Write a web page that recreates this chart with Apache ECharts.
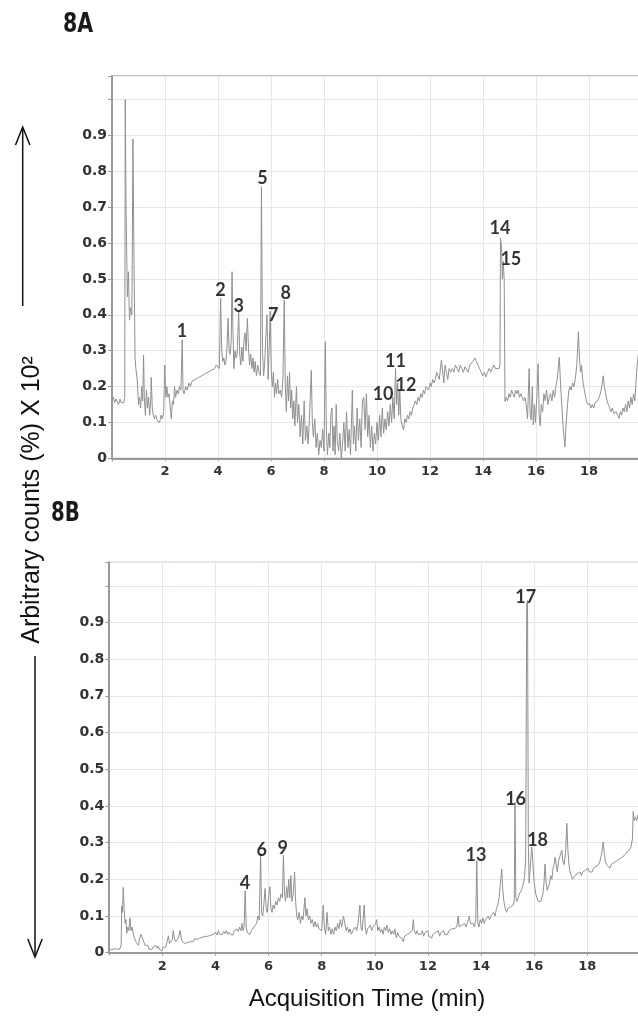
<!DOCTYPE html>
<html>
<head>
<meta charset="utf-8">
<script src="https://cdn.jsdelivr.net/npm/echarts@6/dist/echarts.min.js"></script>
<style>
html,body{margin:0;padding:0;background:#fff;}
#chart{width:638px;height:1035px;}
</style>
</head>
<body>
<div id="chart"></div>
<script>
// ---- Panel 8A trace: [time (min), arbitrary counts]
const traceA = [
[0.00,0.16],[0.05,0.17],[0.10,0.155],[0.15,0.165],[0.20,0.16],[0.25,0.15],[0.30,0.165],[0.35,0.155],[0.40,0.15],[0.45,0.155],
[0.48,0.17],[0.50,1.0],[0.53,0.70],[0.58,0.45],[0.62,0.52],[0.66,0.385],[0.70,0.42],[0.75,0.40],[0.79,0.89],[0.83,0.55],
[0.87,0.28],[0.90,0.25],[0.95,0.22],[1.00,0.15],[1.04,0.17],[1.08,0.14],[1.12,0.20],[1.16,0.16],[1.19,0.288],[1.22,0.17],
[1.26,0.12],[1.30,0.19],[1.34,0.14],[1.38,0.17],[1.42,0.12],[1.46,0.16],[1.48,0.226],[1.52,0.14],[1.56,0.12],[1.60,0.11],
[1.65,0.12],[1.70,0.105],[1.75,0.11],[1.80,0.10],[1.85,0.12],[1.90,0.11],[1.95,0.13],[1.99,0.26],[2.03,0.17],[2.07,0.20],
[2.11,0.17],[2.15,0.18],[2.20,0.14],[2.24,0.11],[2.28,0.16],[2.32,0.15],[2.36,0.20],[2.40,0.17],[2.45,0.19],[2.50,0.18],
[2.55,0.20],[2.60,0.19],[2.65,0.33],[2.68,0.19],[2.72,0.18],[2.78,0.20],[2.84,0.19],[2.90,0.21],[2.96,0.20],[3.02,0.215],
[3.08,0.21],[3.14,0.22],[3.20,0.215],[3.26,0.225],[3.32,0.22],[3.38,0.23],[3.44,0.225],[3.50,0.235],[3.56,0.23],[3.62,0.24],
[3.68,0.235],[3.74,0.245],[3.80,0.24],[3.86,0.25],[3.94,0.26],[4.00,0.255],[4.05,0.25],[4.10,0.446],[4.14,0.30],[4.18,0.27],
[4.22,0.28],[4.26,0.26],[4.30,0.27],[4.34,0.31],[4.38,0.39],[4.42,0.30],[4.46,0.29],[4.50,0.33],[4.53,0.52],[4.56,0.37],
[4.60,0.25],[4.64,0.30],[4.68,0.28],[4.72,0.29],[4.78,0.408],[4.82,0.29],[4.86,0.26],[4.90,0.31],[4.94,0.27],[4.98,0.33],
[5.02,0.35],[5.06,0.30],[5.11,0.39],[5.15,0.31],[5.19,0.26],[5.23,0.29],[5.28,0.25],[5.32,0.28],[5.36,0.24],[5.40,0.27],
[5.45,0.23],[5.50,0.26],[5.55,0.24],[5.60,0.23],[5.64,0.757],[5.68,0.30],[5.72,0.23],[5.76,0.26],[5.80,0.33],[5.85,0.40],
[5.89,0.22],[5.93,0.30],[5.97,0.41],[6.01,0.24],[6.05,0.20],[6.09,0.24],[6.13,0.17],[6.17,0.21],[6.21,0.18],[6.25,0.22],
[6.30,0.18],[6.35,0.19],[6.40,0.17],[6.45,0.22],[6.50,0.441],[6.54,0.20],[6.58,0.13],[6.62,0.23],[6.66,0.16],[6.70,0.24],
[6.74,0.14],[6.78,0.19],[6.82,0.11],[6.86,0.16],[6.90,0.09],[6.96,0.20],[7.00,0.10],[7.05,0.15],[7.10,0.06],[7.15,0.12],
[7.20,0.04],[7.25,0.16],[7.30,0.05],[7.35,0.09],[7.40,0.04],[7.45,0.11],[7.52,0.245],[7.56,0.10],[7.60,0.06],[7.65,0.11],
[7.70,0.03],[7.75,0.07],[7.80,0.01],[7.85,0.05],[7.90,0.03],[7.95,0.08],[8.00,0.02],[8.05,0.325],[8.09,0.08],[8.13,0.01],
[8.18,0.07],[8.22,0.03],[8.26,0.12],[8.30,0.14],[8.34,0.02],[8.38,0.09],[8.42,0.01],[8.46,0.15],[8.50,0.05],[8.55,0.02],
[8.60,0.07],[8.65,0.00],[8.70,0.04],[8.75,0.10],[8.80,0.02],[8.85,0.13],[8.90,0.03],[8.95,0.08],[9.00,0.01],[9.07,0.19],
[9.11,0.04],[9.15,0.09],[9.20,0.02],[9.25,0.14],[9.30,0.05],[9.35,0.11],[9.40,0.03],[9.45,0.16],[9.50,0.17],[9.55,0.08],
[9.60,0.18],[9.65,0.06],[9.70,0.12],[9.75,0.03],[9.80,0.09],[9.85,0.02],[9.90,0.07],[9.95,0.04],[10.00,0.10],[10.05,0.05],
[10.10,0.12],[10.15,0.06],[10.20,0.14],[10.25,0.07],[10.30,0.11],[10.35,0.08],[10.40,0.13],[10.45,0.09],[10.50,0.15],[10.55,0.10],
[10.60,0.17],[10.65,0.11],[10.70,0.25],[10.74,0.15],[10.78,0.21],[10.82,0.12],[10.86,0.19],[10.90,0.11],[10.95,0.09],[11.00,0.08],
[11.05,0.11],[11.10,0.10],[11.15,0.12],[11.20,0.11],[11.25,0.13],[11.30,0.12],[11.35,0.14],[11.40,0.145],[11.45,0.16],[11.50,0.15],
[11.55,0.17],[11.60,0.16],[11.65,0.18],[11.70,0.17],[11.75,0.19],[11.80,0.18],[11.85,0.20],[11.90,0.195],[11.95,0.19],[12.00,0.21],
[12.05,0.20],[12.10,0.22],[12.15,0.21],[12.20,0.22],[12.25,0.24],[12.30,0.23],[12.35,0.22],[12.43,0.274],[12.48,0.24],[12.52,0.21],
[12.57,0.26],[12.62,0.24],[12.67,0.22],[12.72,0.25],[12.78,0.24],[12.84,0.25],[12.90,0.24],[12.96,0.26],[13.02,0.25],[13.08,0.24],
[13.14,0.26],[13.20,0.25],[13.26,0.24],[13.32,0.255],[13.38,0.25],[13.44,0.24],[13.50,0.26],[13.56,0.265],[13.62,0.27],[13.69,0.28],
[13.75,0.27],[13.81,0.26],[13.87,0.25],[13.93,0.24],[13.99,0.23],[14.05,0.24],[14.11,0.227],[14.17,0.24],[14.23,0.25],[14.29,0.24],
[14.35,0.25],[14.41,0.26],[14.47,0.25],[14.53,0.255],[14.60,0.25],[14.64,0.26],[14.66,0.613],[14.70,0.59],[14.73,0.50],[14.76,0.55],
[14.80,0.50],[14.83,0.158],[14.88,0.17],[14.93,0.16],[14.98,0.18],[15.03,0.17],[15.08,0.19],[15.13,0.18],[15.18,0.17],[15.23,0.19],
[15.28,0.18],[15.33,0.19],[15.38,0.17],[15.43,0.18],[15.48,0.17],[15.53,0.16],[15.58,0.17],[15.63,0.15],[15.68,0.11],[15.74,0.25],
[15.78,0.12],[15.82,0.107],[15.86,0.20],[15.90,0.093],[15.94,0.15],[15.98,0.10],[16.03,0.17],[16.08,0.264],[16.12,0.12],[16.16,0.09],
[16.20,0.15],[16.25,0.13],[16.30,0.18],[16.35,0.16],[16.40,0.19],[16.45,0.15],[16.50,0.17],[16.55,0.18],[16.60,0.16],[16.65,0.19],
[16.70,0.17],[16.75,0.20],[16.80,0.22],[16.88,0.282],[16.93,0.20],[16.98,0.14],[17.03,0.08],[17.09,0.032],[17.14,0.10],[17.19,0.15],
[17.24,0.19],[17.28,0.20],[17.33,0.19],[17.38,0.21],[17.43,0.20],[17.48,0.22],[17.54,0.26],[17.60,0.353],[17.64,0.28],[17.68,0.24],
[17.72,0.26],[17.76,0.22],[17.80,0.20],[17.85,0.18],[17.90,0.16],[17.95,0.15],[18.03,0.152],[18.08,0.14],[18.13,0.15],[18.18,0.14],
[18.23,0.155],[18.28,0.15],[18.33,0.16],[18.38,0.17],[18.43,0.18],[18.48,0.20],[18.54,0.23],[18.58,0.20],[18.63,0.18],[18.68,0.16],
[18.73,0.15],[18.78,0.14],[18.83,0.13],[18.88,0.14],[18.93,0.125],[18.98,0.124],[19.03,0.13],[19.08,0.12],[19.13,0.111],[19.18,0.13],
[19.23,0.12],[19.28,0.14],[19.33,0.13],[19.38,0.15],[19.43,0.13],[19.48,0.16],[19.53,0.14],[19.58,0.17],[19.63,0.15],[19.68,0.18],
[19.73,0.16],[19.78,0.22],[19.83,0.27],[19.88,0.30],[19.93,0.28],[19.98,0.29]
];

// ---- Panel 8B trace: [time (min), arbitrary counts]
const traceB = [
[0.00,0.010],[0.05,0.012],[0.10,0.008],[0.15,0.010],[0.20,0.011],[0.25,0.009],[0.30,0.010],[0.35,0.012],[0.40,0.010],[0.45,0.02],
[0.47,0.127],[0.50,0.11],[0.53,0.178],[0.56,0.12],[0.60,0.08],[0.63,0.09],[0.66,0.053],[0.70,0.07],[0.74,0.06],[0.78,0.095],
[0.82,0.06],[0.86,0.07],[0.91,0.05],[0.95,0.04],[1.00,0.03],[1.05,0.035],[1.10,0.02],[1.15,0.04],[1.20,0.05],[1.22,0.055],
[1.26,0.045],[1.30,0.03],[1.35,0.02],[1.40,0.015],[1.45,0.02],[1.50,0.01],[1.55,0.012],[1.60,0.008],[1.65,0.015],[1.70,0.01],
[1.75,0.02],[1.80,0.012],[1.85,0.018],[1.90,0.008],[1.95,0.010],[1.98,0.005],[2.03,0.015],[2.08,0.02],[2.13,0.015],[2.18,0.03],
[2.23,0.046],[2.27,0.025],[2.32,0.03],[2.37,0.035],[2.41,0.06],[2.45,0.04],[2.50,0.03],[2.55,0.035],[2.60,0.04],[2.67,0.06],
[2.71,0.04],[2.76,0.03],[2.81,0.035],[2.86,0.025],[2.91,0.03],[2.96,0.028],[3.01,0.033],[3.06,0.03],[3.11,0.035],[3.16,0.03],
[3.21,0.038],[3.26,0.033],[3.31,0.036],[3.36,0.032],[3.41,0.04],[3.46,0.036],[3.51,0.042],[3.56,0.038],[3.61,0.044],[3.66,0.04],
[3.71,0.045],[3.76,0.041],[3.81,0.047],[3.86,0.043],[3.91,0.05],[3.96,0.045],[4.01,0.055],[4.06,0.048],[4.11,0.06],[4.16,0.05],
[4.21,0.055],[4.26,0.05],[4.31,0.058],[4.36,0.052],[4.41,0.06],[4.46,0.05],[4.51,0.056],[4.56,0.05],[4.61,0.055],[4.66,0.048],
[4.71,0.06],[4.76,0.055],[4.81,0.065],[4.86,0.058],[4.91,0.07],[4.96,0.06],[5.00,0.08],[5.04,0.06],[5.08,0.07],[5.12,0.169],
[5.16,0.07],[5.20,0.055],[5.25,0.06],[5.30,0.05],[5.35,0.06],[5.40,0.055],[5.45,0.07],[5.50,0.065],[5.55,0.08],[5.60,0.10],
[5.65,0.09],[5.70,0.27],[5.74,0.11],[5.78,0.10],[5.82,0.13],[5.87,0.175],[5.91,0.12],[5.95,0.11],[6.00,0.15],[6.05,0.18],
[6.09,0.12],[6.13,0.11],[6.17,0.13],[6.22,0.12],[6.27,0.14],[6.32,0.13],[6.37,0.15],[6.42,0.14],[6.47,0.16],[6.52,0.15],
[6.56,0.265],[6.60,0.16],[6.64,0.14],[6.68,0.18],[6.72,0.15],[6.76,0.20],[6.80,0.15],[6.84,0.21],[6.88,0.14],[6.93,0.16],
[6.98,0.22],[7.02,0.14],[7.06,0.10],[7.10,0.09],[7.15,0.11],[7.20,0.08],[7.25,0.10],[7.30,0.09],[7.37,0.15],[7.41,0.10],
[7.45,0.12],[7.50,0.09],[7.55,0.10],[7.60,0.08],[7.65,0.09],[7.70,0.07],[7.75,0.085],[7.80,0.07],[7.85,0.08],[7.90,0.065],
[7.95,0.07],[8.00,0.06],[8.06,0.13],[8.10,0.07],[8.15,0.05],[8.20,0.11],[8.25,0.06],[8.30,0.07],[8.35,0.05],[8.40,0.065],
[8.45,0.05],[8.50,0.07],[8.55,0.06],[8.60,0.08],[8.65,0.065],[8.70,0.09],[8.75,0.07],[8.82,0.10],[8.87,0.08],[8.92,0.06],
[8.97,0.07],[9.02,0.055],[9.07,0.065],[9.12,0.05],[9.17,0.06],[9.22,0.055],[9.27,0.07],[9.32,0.06],[9.37,0.08],[9.44,0.13],
[9.48,0.07],[9.52,0.06],[9.56,0.09],[9.60,0.13],[9.64,0.07],[9.68,0.05],[9.73,0.065],[9.78,0.06],[9.83,0.075],[9.88,0.06],
[9.93,0.07],[9.98,0.065],[10.03,0.08],[10.07,0.09],[10.11,0.06],[10.16,0.07],[10.21,0.055],[10.26,0.065],[10.31,0.05],[10.36,0.07],
[10.41,0.06],[10.46,0.075],[10.51,0.055],[10.56,0.065],[10.61,0.05],[10.66,0.06],[10.71,0.05],[10.76,0.065],[10.81,0.04],[10.86,0.055],
[10.91,0.045],[10.96,0.05],[11.01,0.04],[11.07,0.03],[11.12,0.045],[11.17,0.04],[11.22,0.05],[11.27,0.045],[11.32,0.055],[11.37,0.05],
[11.41,0.06],[11.45,0.09],[11.49,0.06],[11.54,0.05],[11.59,0.06],[11.64,0.05],[11.69,0.055],[11.74,0.05],[11.79,0.06],[11.84,0.045],
[11.89,0.055],[11.94,0.05],[11.99,0.06],[12.04,0.045],[12.09,0.05],[12.14,0.04],[12.19,0.05],[12.24,0.045],[12.29,0.055],[12.34,0.05],
[12.39,0.06],[12.44,0.045],[12.49,0.055],[12.54,0.05],[12.59,0.06],[12.64,0.05],[12.69,0.055],[12.74,0.05],[12.79,0.06],[12.84,0.055],
[12.89,0.065],[12.94,0.06],[12.99,0.065],[13.04,0.06],[13.09,0.07],[13.14,0.10],[13.18,0.07],[13.23,0.065],[13.28,0.075],[13.33,0.07],
[13.38,0.08],[13.43,0.07],[13.48,0.08],[13.52,0.09],[13.56,0.10],[13.60,0.08],[13.65,0.075],[13.70,0.08],[13.75,0.07],[13.80,0.09],
[13.84,0.25],[13.88,0.08],[13.92,0.07],[13.97,0.09],[14.02,0.08],[14.07,0.095],[14.12,0.08],[14.17,0.09],[14.22,0.085],[14.27,0.10],
[14.32,0.09],[14.37,0.10],[14.42,0.095],[14.47,0.11],[14.53,0.10],[14.58,0.12],[14.63,0.13],[14.68,0.15],[14.73,0.19],[14.78,0.228],
[14.82,0.17],[14.86,0.14],[14.91,0.12],[14.96,0.11],[15.01,0.12],[15.06,0.115],[15.11,0.125],[15.16,0.12],[15.21,0.13],[15.25,0.14],
[15.28,0.41],[15.31,0.15],[15.35,0.14],[15.40,0.15],[15.44,0.16],[15.48,0.164],[15.52,0.17],[15.56,0.18],[15.60,0.19],[15.64,0.21],
[15.68,0.25],[15.72,0.95],[15.75,0.96],[15.78,0.30],[15.81,0.19],[15.84,0.19],[15.87,0.25],[15.91,0.288],[15.94,0.26],[15.98,0.21],
[16.02,0.18],[16.06,0.16],[16.10,0.15],[16.15,0.14],[16.20,0.145],[16.25,0.14],[16.29,0.136],[16.33,0.16],[16.37,0.19],[16.41,0.242],
[16.45,0.19],[16.49,0.17],[16.54,0.17],[16.58,0.19],[16.62,0.21],[16.67,0.20],[16.71,0.23],[16.75,0.24],[16.79,0.26],[16.83,0.24],
[16.87,0.22],[16.92,0.25],[16.96,0.26],[17.00,0.27],[17.04,0.28],[17.08,0.25],[17.13,0.24],[17.18,0.27],[17.23,0.353],[17.27,0.28],
[17.31,0.24],[17.35,0.22],[17.40,0.21],[17.44,0.20],[17.48,0.20],[17.53,0.21],[17.58,0.205],[17.63,0.215],[17.68,0.21],[17.73,0.22],
[17.78,0.21],[17.83,0.22],[17.88,0.215],[17.93,0.225],[17.98,0.22],[18.03,0.23],[18.08,0.22],[18.13,0.225],[18.18,0.22],[18.23,0.23],
[18.28,0.225],[18.33,0.235],[18.38,0.23],[18.43,0.24],[18.48,0.25],[18.54,0.27],[18.60,0.302],[18.64,0.27],[18.68,0.25],[18.73,0.24],
[18.78,0.235],[18.85,0.23],[18.90,0.24],[18.95,0.235],[19.00,0.245],[19.05,0.24],[19.10,0.25],[19.15,0.245],[19.20,0.255],[19.25,0.25],
[19.30,0.26],[19.35,0.255],[19.40,0.265],[19.45,0.26],[19.50,0.275],[19.55,0.27],[19.60,0.28],[19.65,0.29],[19.70,0.31],[19.73,0.385],
[19.77,0.36],[19.81,0.37],[19.86,0.36],[19.90,0.375],[19.95,0.37],[20.00,0.38]
];

// ---- Peak number labels (time, count position, text)
const peakNamesA = ['1','2','3','5','7','8','10','11','12','14','15'];
const peakTimesA = [2.64, 4.09, 4.78, 5.68, 6.08, 6.56, 10.23, 10.70, 11.09, 14.64, 15.05];
const peakValsA  = [0.353, 0.469, 0.424, 0.780, 0.400, 0.461, 0.178, 0.271, 0.204, 0.642, 0.555];

const peakNamesB = ['4','6','9','13','16','17','18'];
const peakTimesB = [5.11, 5.74, 6.53, 13.81, 15.30, 15.68, 16.13];
const peakValsB  = [0.190, 0.280, 0.284, 0.266, 0.418, 0.970, 0.307];

// ---- Axis tick settings
const xTickStep = 2;
const yTickStep = 0.1;
const xTitle = 'Acquisition Time (min)';
const yTitle = 'Arbitrary counts (%) X 10²';
const panelTitles = ['8A', '8B'];

const chart = echarts.init(document.getElementById('chart'), null, {renderer: 'canvas'});

const gridLineColor = '#e3e8e8';
const axisColor = '#9a9a9a';

function xAxisCfg(gi) {
  return {
    type: 'value', gridIndex: gi, min: 0, max: 20, interval: xTickStep,
    axisLine: {show: true, onZero: false, lineStyle: {color: axisColor, width: 2}},
    axisTick: {show: true, length: 3, lineStyle: {color: axisColor}},
    axisLabel: {margin: 7, formatter: v => (v === 0 || v === 20) ? '' : String(v),
      fontFamily: 'DejaVu Sans', fontWeight: 'bold', fontSize: 13, color: '#333'},
    splitLine: {show: true, lineStyle: {color: gridLineColor, width: 1}}
  };
}
function yAxisCfg(gi, maxV) {
  return {
    type: 'value', gridIndex: gi, min: 0, max: maxV, interval: yTickStep,
    axisLine: {show: true, lineStyle: {color: axisColor, width: 2}},
    axisTick: {show: true, length: 4, lineStyle: {color: axisColor}},
    axisLabel: {margin: 5, formatter: v => v === 0 ? '0' : (v > 0.95 ? '' : v.toFixed(1)),
      fontFamily: 'DejaVu Sans', fontWeight: 'bold', fontSize: 14, color: '#333'},
    splitLine: {show: true, lineStyle: {color: gridLineColor, width: 1}}
  };
}
function labelData(names, ts, vs) {
  return names.map((n, i) => [ts[i], vs[i], n]);
}
const peakLabelStyle = {
  show: true, position: 'inside', formatter: p => p.data[2],
  fontFamily: 'Lato, "Liberation Sans", sans-serif', fontWeight: 'bold', fontSize: 18, color: '#000'
};

const option = {
  backgroundColor: '#fff',
  animation: false,
  grid: [
    {left: 112, top: 76, width: 530, height: 382.3, outerBoundsMode: 'none', containLabel: false,
     show: true, borderColor: '#8a8a8a', borderWidth: 1, backgroundColor: 'transparent'},
    {left: 109.2, top: 562.3, width: 531.2, height: 390.4, outerBoundsMode: 'none', containLabel: false,
     show: true, borderColor: '#8a8a8a', borderWidth: 1, backgroundColor: 'transparent'}
  ],
  xAxis: [xAxisCfg(0), xAxisCfg(1)],
  yAxis: [yAxisCfg(0, 1.0657), yAxisCfg(1, 1.064)],
  series: [
    {type: 'line', xAxisIndex: 0, yAxisIndex: 0, data: traceA, showSymbol: false, symbol: 'none',
     lineStyle: {color: '#909090', width: 1}, silent: true},
    {type: 'line', xAxisIndex: 1, yAxisIndex: 1, data: traceB, showSymbol: false, symbol: 'none',
     lineStyle: {color: '#909090', width: 1}, silent: true},
    {type: 'scatter', xAxisIndex: 0, yAxisIndex: 0, data: labelData(peakNamesA, peakTimesA, peakValsA),
     symbolSize: 1, itemStyle: {color: 'rgba(0,0,0,0)'}, label: peakLabelStyle, silent: true, z: 5},
    {type: 'scatter', xAxisIndex: 1, yAxisIndex: 1, data: labelData(peakNamesB, peakTimesB, peakValsB),
     symbolSize: 1, itemStyle: {color: 'rgba(0,0,0,0)'}, label: peakLabelStyle, silent: true, z: 5}
  ],
  graphic: [
    {type: 'text', x: 63, y: 11, scaleX: 0.76,
     style: {text: panelTitles[0], fontFamily: 'DejaVu Sans', fontWeight: 'bold', fontSize: 27, fill: '#1a1a1a'}},
    {type: 'text', x: 51, y: 501, scaleX: 0.76,
     style: {text: panelTitles[1], fontFamily: 'DejaVu Sans', fontWeight: 'bold', fontSize: 26, fill: '#1a1a1a'}},
    {type: 'text', x: 367, y: 999,
     style: {text: xTitle, fontFamily: 'Liberation Sans', fontSize: 24, fill: '#111', align: 'center', verticalAlign: 'middle'}},
    {type: 'text', x: 32, y: 500, rotation: Math.PI / 2,
     style: {text: yTitle, fontFamily: 'Liberation Sans', fontSize: 25, fill: '#111', align: 'center', verticalAlign: 'middle'}},
    // up arrow
    {type: 'polyline', shape: {points: [[22.7, 306], [22.7, 128]]}, style: {stroke: '#111', lineWidth: 1.5, fill: null}},
    {type: 'polyline', shape: {points: [[15.5, 145], [22.7, 127], [29.9, 145]]}, style: {stroke: '#111', lineWidth: 1.5, fill: null}},
    // down arrow
    {type: 'polyline', shape: {points: [[35, 656], [35, 956]]}, style: {stroke: '#111', lineWidth: 1.5, fill: null}},
    {type: 'polyline', shape: {points: [[27.8, 939], [35, 957], [42.2, 939]]}, style: {stroke: '#111', lineWidth: 1.5, fill: null}}
  ]
};
chart.setOption(option);
</script>
</body>
</html>
